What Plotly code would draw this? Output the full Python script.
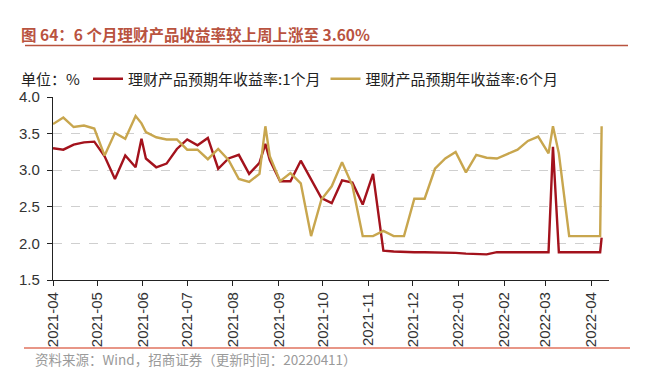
import plotly.graph_objects as go

dates = [
    "2021-04-01", "2021-04-08", "2021-04-15", "2021-04-22", "2021-04-29",
    "2021-05-06", "2021-05-13", "2021-05-20", "2021-05-27", "2021-05-31",
    "2021-06-03", "2021-06-10", "2021-06-17", "2021-06-24", "2021-07-01",
    "2021-07-08", "2021-07-15", "2021-07-22", "2021-07-29", "2021-08-05",
    "2021-08-12", "2021-08-19", "2021-08-23", "2021-08-26", "2021-09-02",
    "2021-09-09", "2021-09-16", "2021-09-23", "2021-09-30", "2021-10-07",
    "2021-10-14", "2021-10-21", "2021-10-28", "2021-11-04", "2021-11-11",
    "2021-11-18", "2021-11-25", "2021-12-02", "2021-12-09", "2021-12-16",
    "2021-12-23", "2021-12-30", "2022-01-06", "2022-01-13", "2022-01-20",
    "2022-01-27", "2022-02-03", "2022-02-10", "2022-02-17", "2022-02-24",
    "2022-03-03", "2022-03-06", "2022-03-10", "2022-03-17", "2022-03-24",
    "2022-03-31", "2022-04-07", "2022-04-08",
]

yield_1m = [
    3.30, 3.28, 3.35, 3.38, 3.39,
    3.19, 2.88, 3.20, 3.04, 3.43,
    3.16, 3.04, 3.09, 3.29, 3.42,
    3.34, 3.44, 3.02, 3.16, 3.21,
    2.95, 3.10, 3.36, 3.14, 2.85,
    2.85, 3.13, 2.87, 2.62, 2.55,
    2.86, 2.83, 2.53, 2.95, 1.90,
    1.89, 1.88, 1.88, 1.88, 1.88,
    1.88, 1.87, 1.86, 1.85, 1.85,
    1.88, 1.88, 1.88, 1.88, 1.88,
    1.88, 3.32, 1.88, 1.88, 1.88,
    1.88, 1.88, 2.08,
]

yield_6m = [
    3.63, 3.72, 3.59, 3.61, 3.57,
    3.20, 3.51, 3.43, 3.74, 3.64,
    3.52, 3.45, 3.42, 3.42, 3.28,
    3.28, 3.15, 3.29, 3.14, 2.88,
    2.84, 2.95, 3.60, 3.19, 2.85,
    2.96, 2.82, 2.10, 2.60, 2.78,
    3.11, 2.79, 2.10, 2.10, 2.17,
    2.10, 2.10, 2.61, 2.61, 3.02,
    3.16, 3.25, 2.97, 3.21, 3.17,
    3.16, 3.22, 3.28, 3.40, 3.46,
    3.23, 3.60, 3.23, 2.10, 2.10,
    2.10, 2.10, 3.60,
]

name_1m = "理财产品预期年收益率:1个月"
name_6m = "理财产品预期年收益率:6个月"
title_text = "图 64：6 个月理财产品收益率较上周上涨至 3.60%"
unit_text = "单位：%"
source_text = "资料来源：Wind，招商证券（更新时间：20220411）"

RED = "#A3121C"
GOLD = "#C8A64E"
TITLE_C = "#B9533F"
CJK = "Noto Sans CJK SC"
LAT = "Liberation Sans, Arial"

W, H = 653, 373
L, R, T, B = 45, 52, 89, 101
PW, PH = W - L - R, H - T - B


def px(x):
    return (x - L) / PW


def py(y):
    return (H - B - y) / PH


fig = go.Figure()
fig.add_trace(go.Scatter(x=dates, y=yield_1m, mode="lines", name=name_1m,
                         line=dict(color=RED, width=2.4)))
fig.add_trace(go.Scatter(x=dates, y=yield_6m, mode="lines", name=name_6m,
                         line=dict(color=GOLD, width=2.4)))

fig.update_layout(
    width=W, height=H,
    margin=dict(l=L, r=R, t=T, b=B, autoexpand=False),
    paper_bgcolor="white", plot_bgcolor="white",
    showlegend=True,
    legend=dict(orientation="h", x=px(80), xanchor="left", y=py(71), yanchor="middle",
                font=dict(family=CJK, size=15, color="#222"),
                itemwidth=30, bgcolor="rgba(0,0,0,0)"),
    font=dict(family=LAT, color="#333"),
)

fig.update_xaxes(
    type="date",
    range=["2021-04-01", "2022-04-13"],
    dtick="M1", tick0="2021-04-01", tickformat="%Y-%m", tickangle=-90,
    ticks="outside", ticklen=5, tickcolor="#222",
    showline=True, linecolor="#222", linewidth=1.2,
    showgrid=False, zeroline=False, automargin=False,
    tickfont=dict(family=LAT, size=15, color="#333"),
)
fig.update_yaxes(
    range=[1.5, 4.0], dtick=0.5, tickformat=".1f",
    ticks="outside", ticklen=5, tickcolor="#222",
    showline=True, linecolor="#222", linewidth=1.2,
    showgrid=True, gridcolor="#CFCFCF", griddash="dash", gridwidth=1,
    zeroline=False, automargin=False, ticklabelstandoff=4,
    tickfont=dict(family=LAT, size=15, color="#333"),
)

fig.add_annotation(text=f"<b>{title_text}</b>", xref="paper", yref="paper",
                   x=px(11), y=py(26), xanchor="left", yanchor="middle",
                   showarrow=False, font=dict(family=CJK, size=15.5, color=TITLE_C))
fig.add_shape(type="line", xref="paper", yref="paper",
              x0=px(17), x1=px(620), y0=py(37.5), y1=py(37.5),
              line=dict(color=TITLE_C, width=1.5))
fig.add_annotation(text=unit_text, xref="paper", yref="paper",
                   x=px(11), y=py(70), xanchor="left", yanchor="middle",
                   showarrow=False, font=dict(family=CJK, size=15, color="#222"))
fig.add_shape(type="line", xref="paper", yref="paper",
              x0=px(16), x1=px(622), y0=py(340), y1=py(340),
              line=dict(color="#E0735F", width=1.5))
fig.add_annotation(text=source_text, xref="paper", yref="paper",
                   x=px(25), y=py(351), xanchor="left", yanchor="middle",
                   showarrow=False, font=dict(family=CJK, size=13.5, color="#9A9A9A"))

fig.write_html("out.html")
